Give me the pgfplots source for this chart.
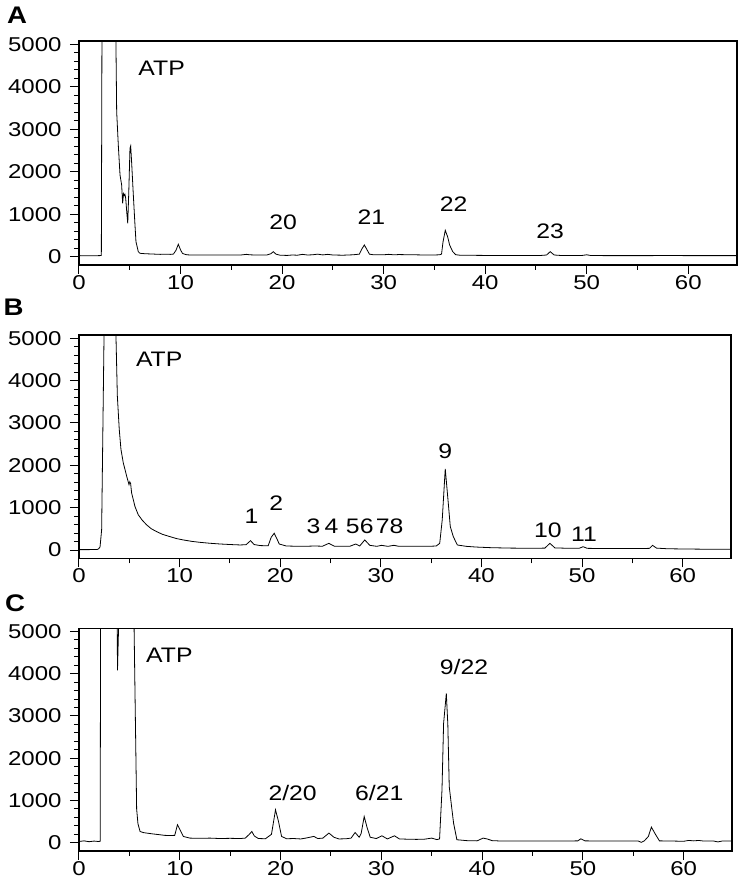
\documentclass[border=0pt]{standalone}
\usepackage{fontspec}
\setmainfont{Liberation Sans}
\usepackage{pgfplots}
\pgfplotsset{compat=1.18}

% shared look of the three chromatogram panels
\pgfplotsset{chrom/.style={
    scale only axis, anchor=south west,
    xmin=0, xmax=64.8, ymin=-195, ymax=5075,
    xtick={0,10,...,60}, minor xtick={5,15,...,55},
    ytick={0,1000,...,5000}, minor y tick num=4,
    tick pos=left, tick align=outside,
    major tick length=4.5pt, minor tick length=2.5pt,
    every tick/.style={black, line width=0.5pt},
    axis line style={line width=0.6pt},
    tick label style={font=\fontsize{10}{12}\selectfont, xscale=1.2},
    xticklabel style={yshift=3pt},
    /pgf/number format/assume math mode=true,
    /pgf/number format/1000 sep={},
    cycle list={{black, line width=0.7pt, mark=none}},
  },
}
\tikzset{pk/.style={font=\fontsize{10.5}{12}\selectfont, xscale=1.18, inner sep=0pt},
  panel/.style={font=\bfseries\fontsize{12}{14}\selectfont, xscale=1.15}}

\begin{document}
\begin{tikzpicture}
\path[use as bounding box] (0,0) rectangle (370.5pt,440.5pt);

\node[panel] at (8.5pt,432.75pt) {A};
\node[panel] at (6.75pt,287pt) {B};
\node[panel] at (7.5pt,139pt) {C};

% panel A
\begin{axis}[chrom, at={(39.5pt,308pt)}, width=329pt, height=112pt]
\addplot coordinates {
(0,25) (1,22) (2.0,25) (2.2,28) (2.27,6000) (3.6,6000) (3.63,5200) (3.71,3412)
(3.87,2628) (4.04,1922) (4.2,1687) (4.3,1256) (4.38,1480) (4.45,1440) (4.52,1470)
(4.6,1374) (4.72,1000) (4.8,786) (4.9,1500) (5.02,2551) (5.09,2605) (5.18,2235)
(5.35,1452) (5.5,800) (5.61,353) (5.84,118) (6.0,80) (6.5,70) (7.0,65) (7.5,60)
(8.0,55) (8.5,58) (9.0,55) (9.3,62) (9.55,150) (9.78,292) (10.0,160) (10.2,75)
(10.6,45) (11,40) (12,40) (13,42) (14,38) (15,40) (16,42) (16.5,55) (16.8,45)
(17.5,38) (18.5,40) (18.9,70) (19.13,118) (19.4,60) (19.8,35) (20.5,30) (21,40)
(21.5,35) (22,55) (22.5,40) (23,45) (23.5,60) (24,42) (24.5,55) (25,40) (26,35)
(27,45) (27.6,60) (27.85,180) (28.1,275) (28.35,170) (28.6,60) (29,45) (30,45)
(30.5,55) (31,45) (31.5,50) (32,48) (33,45) (34,40) (35,40) (35.5,45) (35.7,60)
(35.85,350) (36.07,620) (36.3,470) (36.5,275) (36.8,120) (37.1,47) (37.5,35)
(38,35) (39,32) (40,30) (42,30) (44,28) (45.5,30) (46.05,40) (46.4,118) (46.8,40)
(47.5,28) (49.5,28) (50.0,45) (50.4,28) (52,25) (54,25) (56,25) (58,28) (60,25)
(62,25) (64.8,25)
};
\node[pk] at (8.14,4433) {ATP};
\node[pk] at (20.1,800) {20};
\node[pk] at (28.8,935) {21};
\node[pk] at (36.9,1240) {22};
\node[pk] at (46.4,588) {23};
\end{axis}

% panel B
\begin{axis}[chrom, at={(39.5pt,161.35pt)}, width=326pt, height=111.65pt]
\addplot coordinates {
(0,10) (1,10) (1.8,12) (1.95,30) (2.09,71) (2.25,475) (2.5,5300) (2.6,6000)
(3.6,6000) (3.66,5200) (3.81,3640) (4.0,2850) (4.17,2375) (4.4,2059) (4.74,1741)
(4.97,1544) (5.05,1610) (5.13,1568) (5.23,1347) (5.56,1029) (5.89,831) (6.3,700)
(6.72,594) (7.2,500) (7.71,435) (8.3,370) (9.04,316) (9.7,270) (10.36,238)
(11.2,205) (12.0,182) (13.0,160) (14.0,143) (15.0,130) (16.0,120) (16.6,125)
(17.05,221) (17.4,130) (18.0,105) (18.8,100) (19.1,300) (19.4,396) (19.7,250)
(19.9,142) (20.6,95) (21.5,90) (22.3,87) (23.4,95) (24.2,90) (24.83,158)
(25.4,87) (26.2,90) (26.9,87) (27.5,142) (27.9,95) (28.4,238) (28.9,111)
(29.6,87) (30.06,111) (30.7,87) (31.3,111) (31.8,87) (32.8,90) (33.9,87)
(35.0,90) (35.5,95) (35.85,158) (36.1,712) (36.4,1917) (36.7,1109) (36.9,554)
(37.2,316) (37.6,119) (38.5,87) (39.5,70) (41,55) (43,45) (45,42) (46.3,45)
(46.8,158) (47.3,50) (48.5,42) (49.7,40) (50.1,79) (50.5,40) (52,35) (54,35)
(56,35) (56.7,40) (57.0,111) (57.4,45) (58.5,30) (60,25) (62,20) (64.8,17)
};
\node[pk] at (7.97,4512) {ATP};
\node[pk] at (17.15,791) {1};
\node[pk] at (19.6,1109) {2};
\node[pk] at (23.3,554) {3};
\node[pk] at (25.1,554) {4};
\node[pk] at (27.2,554) {5};
\node[pk] at (28.6,554) {6};
\node[pk] at (30.2,554) {7};
\node[pk] at (31.55,554) {8};
\node[pk] at (36.4,2335) {9};
\node[pk] at (46.6,458) {10};
\node[pk] at (50.2,380) {11};
\end{axis}

% panel C
\begin{axis}[chrom, at={(39.5pt,15pt)}, width=326.5pt, height=111.35pt]
\addplot coordinates {
(0,30) (0.5,45) (1,25) (1.5,40) (1.9,30) (2.1,35) (2.15,6000) (3.78,5600)
(3.82,4080) (3.98,5600) (4.0,6000) (5.4,6000) (5.46,5200) (5.72,800) (5.85,450)
(6.06,267) (6.4,240) (6.72,229) (7.3,210) (8.04,189) (8.5,175) (9.04,172)
(9.5,175) (9.77,425) (10.0,320) (10.36,149) (11,110) (12,105) (13,110) (14,100)
(15,105) (16,100) (16.5,110) (16.9,200) (17.15,267) (17.4,160) (17.8,100)
(18.5,95) (19.1,200) (19.5,779) (19.8,500) (20.1,150) (20.6,95) (21.3,100)
(22,90) (22.5,110) (23.3,150) (23.7,100) (24.2,110) (24.8,229) (25.3,130)
(25.8,90) (26.5,95) (27.0,110) (27.4,243) (27.8,130) (28.0,220) (28.3,621)
(28.6,350) (28.9,130) (29.5,100) (30.06,165) (30.6,90) (31.3,165) (31.8,90)
(32.5,85) (33.5,80) (34.3,85) (35.0,110) (35.5,75) (35.78,90) (36.02,1251)
(36.18,2825) (36.45,3533) (36.6,2800) (36.74,1329) (36.95,900) (37.17,465)
(37.5,71) (38.5,50) (39.5,45) (40.1,110) (40.5,90) (41,50) (42,40) (45,40)
(48,40) (49.5,45) (49.8,94) (50.2,45) (52,40) (54,40) (55.5,40) (55.8,10)
(56.1,45) (56.5,150) (56.8,370) (57.2,200) (57.6,45) (59,40) (60,35) (60.5,55)
(61,45) (61.5,55) (62,40) (63,40) (63.4,20) (63.8,40) (64.8,40)
};
\node[pk] at (8.97,4437) {ATP};
\node[pk] at (21.2,1187) {2/20};
\node[pk] at (29.8,1187) {6/21};
\node[pk] at (38.2,4161) {9/22};
\end{axis}
\end{tikzpicture}
\end{document}
